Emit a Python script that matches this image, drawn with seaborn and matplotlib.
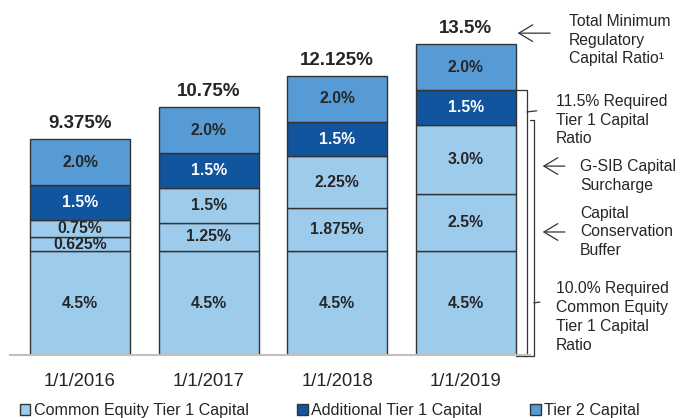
import numpy as np
import pandas as pd
import seaborn as sns
import matplotlib.pyplot as plt
from matplotlib.patches import Patch

dates = ["1/1/2016", "1/1/2017", "1/1/2018", "1/1/2019"]
cet1_minimum = [4.5, 4.5, 4.5, 4.5]
conservation_buffer = [0.625, 1.25, 1.875, 2.5]
gsib_surcharge = [0.75, 1.5, 2.25, 3.0]
additional_tier1 = [1.5, 1.5, 1.5, 1.5]
tier2 = [2.0, 2.0, 2.0, 2.0]
legend_labels = ["Common Equity Tier 1 Capital", "Additional Tier 1 Capital", "Tier 2 Capital"]

light = "#9DCBEC"
dark = "#11559F"
mid = "#569BD6"
edge = "#333333"

sns.set_theme(style="white")
plt.rcParams['font.family'] = ['Liberation Sans', 'DejaVu Sans']

fig = plt.figure(figsize=(6.8, 4.18), dpi=100)
ax = fig.add_axes([0.0154, 0.1507, 0.7644, 0.8014])

layers = [
    (cet1_minimum, light, "#262626"),
    (conservation_buffer, light, "#262626"),
    (gsib_surcharge, light, "#262626"),
    (additional_tier1, dark, "white"),
    (tier2, mid, "#262626"),
]


def fmt(v):
    return f"{v:.1f}%" if float(v * 10).is_integer() else f"{v:g}%"


bottom = np.zeros(len(dates))
for values, color, tcolor in layers:
    df = pd.DataFrame({"date": dates, "value": values})
    sns.barplot(data=df, x="date", y="value", bottom=bottom, color=color,
                saturation=1, edgecolor=edge, linewidth=1, width=0.777,
                errorbar=None, ax=ax)
    for i, v in enumerate(values):
        ax.text(i, bottom[i] + v / 2, fmt(v), ha="center", va="center",
                fontsize=11.3, fontweight="bold", color=tcolor)
    bottom = bottom + np.array(values)

# totals above bars
for i, total in enumerate(bottom):
    ax.annotate(f"{total:g}%", (i, total), xytext=(0, 5), textcoords="offset points",
                ha="center", va="bottom", fontsize=13.5, fontweight="bold", color="#262626")

ax.set_xlim(-0.54, 3.5)
ax.set_ylim(0, 14.54)
ax.set_xlabel("")
ax.set_ylabel("")
ax.set_yticks([])
ax.tick_params(axis="x", length=0, pad=13, labelsize=13.3, colors="#262626")
for s in ["left", "right", "top"]:
    ax.spines[s].set_visible(False)
ax.spines["bottom"].set_color("#C0C0C0")
ax.spines["bottom"].set_linewidth(1.5)

# brackets on the right of the last bar
line_kw = dict(color="#333333", lw=0.9, clip_on=False)
ax.plot([3.39, 3.474, 3.474, 3.39], [11.5, 11.5, -0.05, -0.05], **line_kw)
ax.plot([3.474, 3.55], [10.55, 10.6], **line_kw)
ax.plot([3.50, 3.528, 3.528, 3.45], [10.2, 10.2, -0.05, -0.05], **line_kw)
ax.plot([3.528, 3.575], [2.26, 2.3], **line_kw)

arrow_kw = dict(arrowstyle="->, head_length=0.5, head_width=0.3", color="#333333",
                lw=0.9, mutation_scale=20)
ax.annotate("", xy=(3.38, 13.97), xytext=(3.676, 13.97), arrowprops=arrow_kw, annotation_clip=False)
ax.annotate("", xy=(3.575, 8.2), xytext=(3.79, 8.2), arrowprops=arrow_kw, annotation_clip=False)
ax.annotate("", xy=(3.575, 5.34), xytext=(3.79, 5.34), arrowprops=arrow_kw, annotation_clip=False)

txt_kw = dict(fontsize=11.3, color="#262626", ha="left", va="center", linespacing=1.32)
fig.text(569 / 680, 1 - 40 / 418, "Total Minimum\nRegulatory\nCapital Ratio\u00b9", **txt_kw)
fig.text(556 / 680, 1 - 120 / 418, "11.5% Required\nTier 1 Capital\nRatio", **txt_kw)
fig.text(580 / 680, 1 - 176 / 418, "G-SIB Capital\nSurcharge", **txt_kw)
fig.text(580 / 680, 1 - 232 / 418, "Capital\nConservation\nBuffer", **txt_kw)
fig.text(556 / 680, 1 - 317 / 418, "10.0% Required\nCommon Equity\nTier 1 Capital\nRatio", **txt_kw)

handles = [Patch(facecolor=c, edgecolor=edge, linewidth=1) for c in [light, dark, mid]]
fig.legend(handles, legend_labels, loc="center left", bbox_to_anchor=(20 / 680, 1 - 411 / 418),
           ncol=3, frameon=False, fontsize=11.6, handlelength=0.65, handleheight=0.65,
           handletextpad=0.2, columnspacing=3.0, borderaxespad=0, borderpad=0)

fig.savefig("out.png", dpi=100)
